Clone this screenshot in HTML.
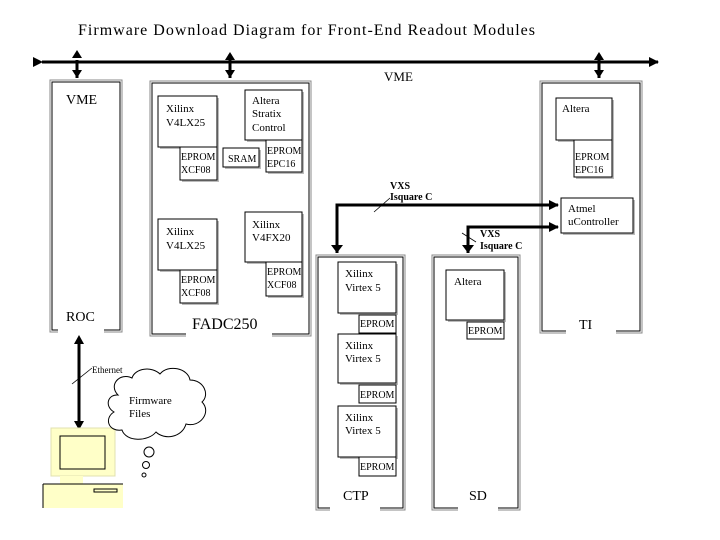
<!DOCTYPE html>
<html><head><meta charset="utf-8"><style>
body{margin:0;background:#fff}
svg{display:block}
text{font-family:"Liberation Serif",serif;fill:#000}
.b{fill:#fff;stroke:#000;stroke-width:1}
.sh{fill:#bbb}
</style></head><body>
<svg width="720" height="540" viewBox="0 0 720 540" xmlns="http://www.w3.org/2000/svg">
<defs>
<marker id="a" markerWidth="10" markerHeight="10" refX="9" refY="5" orient="auto" markerUnits="userSpaceOnUse"><path d="M0,0 L10,5 L0,10z" fill="#000"/></marker>
</defs>
<text x="78" y="35" font-size="16" textLength="457" lengthAdjust="spacing">Firmware Download Diagram for  Front-End Readout Modules</text>
<!-- bus -->
<line x1="42" y1="62" x2="658" y2="62" stroke="#000" stroke-width="3" marker-start="url(#a)" marker-end="url(#a)"/>
<line x1="77" y1="60" x2="77" y2="78" stroke="#000" stroke-width="3"/>
<path d="M72,58 L77,50 L82,58z M72,70 L77,78 L82,70z" fill="#000"/>
<line x1="230" y1="54" x2="230" y2="78" stroke="#000" stroke-width="3"/>
<path d="M225,60 L230,52 L235,60z M225,70 L230,78 L235,70z" fill="#000"/>
<line x1="599" y1="54" x2="599" y2="78" stroke="#000" stroke-width="3"/>
<path d="M594,60 L599,52 L604,60z M594,70 L599,78 L604,70z" fill="#000"/>
<text x="384" y="81" font-size="13">VME</text>

<!-- VME/ROC -->
<rect x="50" y="80" width="72" height="252" fill="none" stroke="#888"/>
<rect x="52" y="82" width="68" height="248" fill="none" stroke="#000"/>
<text x="66" y="104" font-size="14">VME</text>
<rect x="58" y="326" width="46" height="8" fill="#fff"/>
<text x="66" y="321" font-size="14">ROC</text>

<!-- FADC -->
<rect x="150" y="81" width="161" height="255" fill="none" stroke="#888"/>
<rect x="152" y="83" width="157" height="251" fill="none" stroke="#000"/>
<rect x="186" y="330" width="86" height="8" fill="#fff"/>
<text x="192" y="329" font-size="16">FADC250</text>
<g font-size="11">
<rect x="160" y="98" width="59" height="51" class="sh"/><rect x="158" y="96" width="59" height="51" class="b"/>
<text x="166" y="112">Xilinx</text><text x="166" y="126">V4LX25</text>
<rect x="182" y="149" width="37" height="33" class="sh"/><rect x="180" y="147" width="37" height="33" class="b"/>
<text x="181" y="160" font-size="10">EPROM</text><text x="181" y="173" font-size="10">XCF08</text>
<rect x="225" y="150" width="36" height="19" class="sh"/><rect x="223" y="148" width="36" height="19" class="b"/>
<text x="228" y="162" font-size="10">SRAM</text>
<rect x="247" y="92" width="57" height="50" class="sh"/><rect x="245" y="90" width="57" height="50" class="b"/>
<text x="252" y="104">Altera</text><text x="252" y="117">Stratix</text><text x="252" y="131">Control</text>
<rect x="268" y="142" width="36" height="32" class="sh"/><rect x="266" y="140" width="36" height="32" class="b"/>
<text x="267" y="154" font-size="10">EPROM</text><text x="267" y="167" font-size="10">EPC16</text>

<rect x="160" y="221" width="59" height="51" class="sh"/><rect x="158" y="219" width="59" height="51" class="b"/>
<text x="166" y="235">Xilinx</text><text x="166" y="249">V4LX25</text>
<rect x="182" y="272" width="37" height="33" class="sh"/><rect x="180" y="270" width="37" height="33" class="b"/>
<text x="181" y="283" font-size="10">EPROM</text><text x="181" y="296" font-size="10">XCF08</text>
<rect x="247" y="214" width="57" height="50" class="sh"/><rect x="245" y="212" width="57" height="50" class="b"/>
<text x="252" y="228">Xilinx</text><text x="252" y="241">V4FX20</text>
<rect x="268" y="264" width="36" height="34" class="sh"/><rect x="266" y="262" width="36" height="34" class="b"/>
<text x="267" y="275" font-size="10">EPROM</text><text x="267" y="288" font-size="10">XCF08</text>
</g>

<!-- TI -->
<rect x="540" y="81" width="102" height="252" fill="none" stroke="#888"/>
<rect x="542" y="83" width="98" height="248" fill="none" stroke="#000"/>
<rect x="566" y="327" width="50" height="8" fill="#fff"/>
<text x="579" y="329" font-size="14">TI</text>
<g font-size="11">
<rect x="558" y="100" width="56" height="42" class="sh"/><rect x="556" y="98" width="56" height="42" class="b"/>
<text x="562" y="112">Altera</text>
<rect x="576" y="142" width="38" height="37" class="sh"/><rect x="574" y="140" width="38" height="37" class="b"/>
<text x="575" y="160" font-size="10">EPROM</text><text x="575" y="173" font-size="10">EPC16</text>
<rect x="563" y="200" width="72" height="35" class="sh"/><rect x="561" y="198" width="72" height="35" class="b"/>
<text x="568" y="212">Atmel</text><text x="568" y="225">uController</text>
</g>

<!-- VXS -->
<path d="M337,253 L337,205 L558,205" fill="none" stroke="#000" stroke-width="3" marker-end="url(#a)"/>
<path d="M331,245 L337,253 L343,245z" fill="#000"/>
<path d="M468,253 L468,227 L558,227" fill="none" stroke="#000" stroke-width="3" marker-end="url(#a)"/>
<path d="M462,245 L468,253 L474,245z" fill="#000"/>
<line x1="374" y1="212" x2="390" y2="198" stroke="#000" stroke-width="0.8"/>
<line x1="462" y1="233" x2="476" y2="242" stroke="#000" stroke-width="0.8"/>
<g font-size="10" font-weight="bold">
<text x="390" y="189">VXS</text><text x="390" y="200">Isquare C</text>
<text x="480" y="237">VXS</text><text x="480" y="249">Isquare C</text>
</g>

<!-- CTP -->
<rect x="316" y="255" width="89" height="255" fill="none" stroke="#888"/>
<rect x="318" y="257" width="85" height="251" fill="none" stroke="#000"/>
<rect x="330" y="503" width="50" height="8" fill="#fff"/>
<text x="343" y="500" font-size="14">CTP</text>
<g font-size="11">
<rect x="340" y="264" width="58" height="51" class="sh"/><rect x="338" y="262" width="58" height="51" class="b"/>
<text x="345" y="277">Xilinx</text><text x="345" y="291">Virtex 5</text>
<rect x="359" y="315" width="37" height="18" class="b"/><text x="360" y="327" font-size="10">EPROM</text>
<rect x="340" y="336" width="58" height="49" class="sh"/><rect x="338" y="334" width="58" height="49" class="b"/>
<text x="345" y="349">Xilinx</text><text x="345" y="362">Virtex 5</text>
<rect x="359" y="385" width="37" height="18" class="b"/><text x="360" y="398" font-size="10">EPROM</text>
<rect x="340" y="408" width="58" height="51" class="sh"/><rect x="338" y="406" width="58" height="51" class="b"/>
<text x="345" y="421">Xilinx</text><text x="345" y="434">Virtex 5</text>
<rect x="359" y="457" width="37" height="19" class="b"/><text x="360" y="470" font-size="10">EPROM</text>
</g>

<!-- SD -->
<rect x="432" y="255" width="88" height="255" fill="none" stroke="#888"/>
<rect x="434" y="257" width="84" height="251" fill="none" stroke="#000"/>
<rect x="458" y="503" width="40" height="8" fill="#fff"/>
<text x="469" y="500" font-size="14">SD</text>
<g font-size="11">
<rect x="448" y="272" width="58" height="50" class="sh"/><rect x="446" y="270" width="58" height="50" class="b"/>
<text x="454" y="285">Altera</text>
<rect x="467" y="322" width="37" height="17" class="b"/><text x="468" y="334" font-size="10">EPROM</text>
</g>

<!-- Ethernet -->
<line x1="79" y1="340" x2="79" y2="425" stroke="#000" stroke-width="3"/>
<path d="M74,344 L79,335 L84,344z M74,421 L79,430 L84,421z" fill="#000"/>
<line x1="72" y1="384" x2="92" y2="368" stroke="#000" stroke-width="0.8"/>
<text x="92" y="373" font-size="9">Ethernet</text>

<!-- computer -->
<rect x="51" y="428" width="64" height="48" fill="#ffffc8" stroke="#e0e0b0"/>
<rect x="60" y="436" width="45" height="33" fill="#ffffc8" stroke="#000"/>
<rect x="60" y="476" width="23" height="8" fill="#ffffc8"/>
<rect x="43" y="484" width="80" height="24" fill="#ffffc8"/>
<line x1="43" y1="484" x2="43" y2="508" stroke="#000"/>
<line x1="43" y1="484" x2="123" y2="484" stroke="#000"/>
<rect x="94" y="489" width="23" height="3" fill="none" stroke="#000"/>

<!-- cloud -->
<path d="M118,395 C108,385 120,372 132,378 C135,368 152,366 160,374 C168,364 188,368 190,380 C204,380 210,395 202,402 C212,412 200,428 186,424 C182,438 164,440 156,432 C148,442 126,442 122,430 C108,432 104,418 114,412 C104,406 108,394 118,395 Z" fill="#fff" stroke="#000" stroke-width="1"/>
<text x="129" y="404" font-size="11">Firmware</text>
<text x="129" y="417" font-size="11">Files</text>
<circle cx="149" cy="452" r="5" fill="#fff" stroke="#000"/>
<circle cx="146" cy="465" r="3.5" fill="#fff" stroke="#000"/>
<circle cx="144" cy="475" r="2" fill="#fff" stroke="#000"/>
</svg>
</body></html>
